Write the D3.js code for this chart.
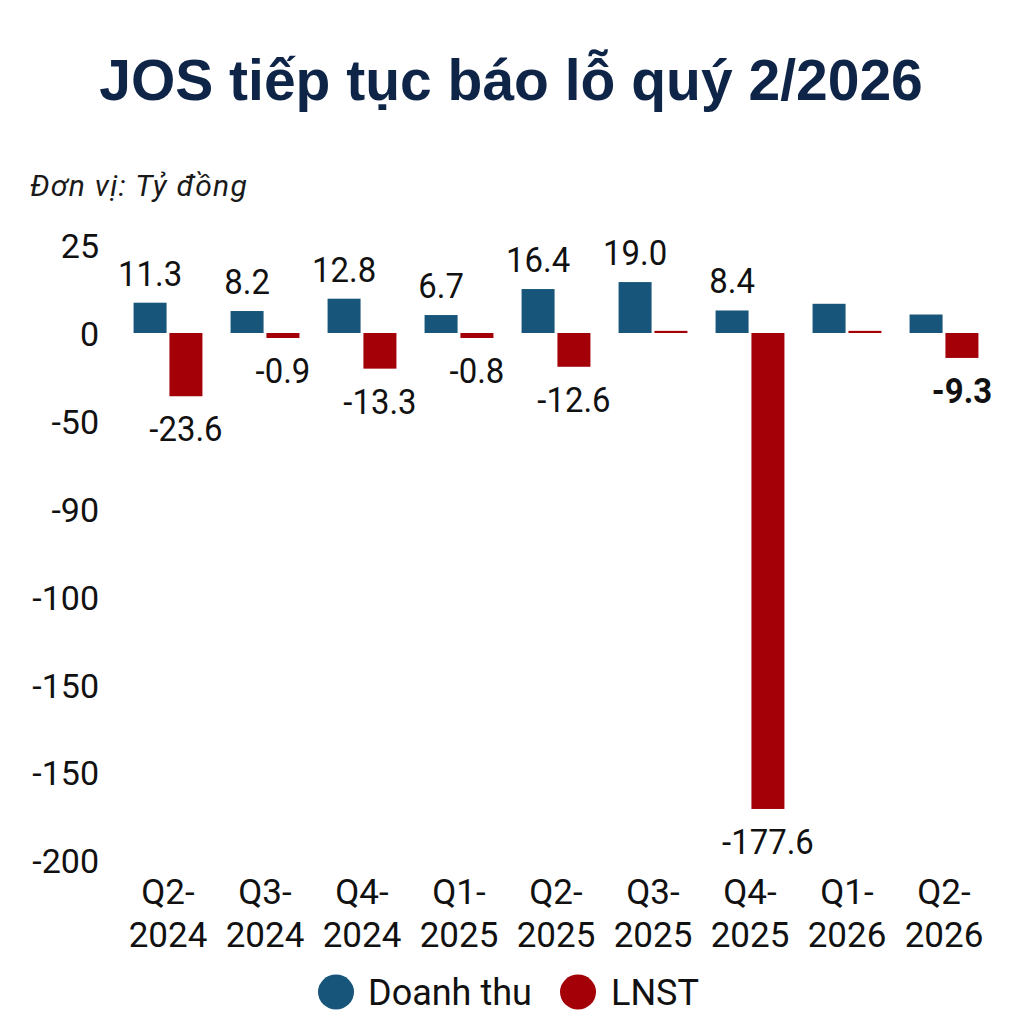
<!DOCTYPE html>
<html>
<head>
<meta charset="utf-8">
<script src="https://cdn.jsdelivr.net/npm/d3@7"></script>
<style>
  html, body { margin: 0; padding: 0; background: #fff; }
  svg { display: block; }
</style>
</head>
<body>
<svg id="chart" width="1024" height="1024"></svg>
<script>
// ---- data ----
const categories = ["Q2-2024", "Q3-2024", "Q4-2024", "Q1-2025", "Q2-2025", "Q3-2025", "Q4-2025", "Q1-2026", "Q2-2026"];
const revenue = [11.3, 8.2, 12.8, 6.7, 16.4, 19.0, 8.4, 10.9, 6.9];
const profit = [-23.6, -0.9, -13.3, -0.8, -12.6, 0.8, -177.6, 0.8, -9.3];
const revenueShown = [true, true, true, true, true, true, true, false, false];
const profitShown = [true, true, true, true, true, false, true, false, true];
const profitBold = [false, false, false, false, false, false, false, false, true];
const tickLabels = ["25", "0", "-50", "-90", "-100", "-150", "-150", "-200"];
const seriesNames = ["Doanh thu", "LNST"];

const title = "JOS tiếp tục báo lỗ quý 2/2026";
const unitText = "Đơn vị: Tỷ đồng";

// ---- styles ----
const colors = ["#18557a", "#a30008"];
const fontFamily = "Roboto, 'Noto Sans', sans-serif";
const textColor = "#111";

const svg = d3.select("#chart");

// title
svg.append("text")
  .attr("x", 511).attr("y", 100)
  .attr("text-anchor", "middle")
  .attr("font-family", "'Liberation Sans', Arial, sans-serif")
  .attr("font-weight", "bold")
  .attr("font-size", 57)
  .attr("fill", "#0f2547")
  .text(title);

svg.append("text")
  .attr("x", 30).attr("y", 196)
  .attr("font-family", fontFamily)
  .attr("font-style", "italic")
  .attr("font-size", 30)
  .attr("letter-spacing", 1.3)
  .attr("fill", "#1a1a1a")
  .text(unitText);

// scales
const y = d3.scaleLinear().domain([-200, 25]).range([869, 266]);
const x0 = d3.scaleBand().domain(categories).range([119.5, 992.5]).paddingInner(0.29).paddingOuter(0.145);
const x1 = d3.scaleBand().domain([0, 1]).range([0, x0.bandwidth()]).paddingInner(0.08);
const tickPos = d3.scalePoint().domain(d3.range(tickLabels.length)).range([246, 861]);

// y tick labels
svg.append("g").selectAll("text")
  .data(tickLabels)
  .join("text")
  .attr("x", 99)
  .attr("y", (d, i) => tickPos(i))
  .attr("dy", "0.36em")
  .attr("text-anchor", "end")
  .attr("font-family", fontFamily)
  .attr("font-size", 34)
  .attr("fill", textColor)
  .text(d => d);

const rows = categories.map((c, i) => ({
  cat: c,
  vals: [
    { s: 0, v: revenue[i], shown: revenueShown[i], bold: false },
    { s: 1, v: profit[i], shown: profitShown[i], bold: profitBold[i] }
  ]
}));

const groups = svg.append("g").selectAll("g")
  .data(rows)
  .join("g")
  .attr("transform", d => `translate(${x0(d.cat)},0)`);

function barTop(d) {
  return d.v >= 0 ? y(d.v) : y(0);
}
function barH(d) {
  const h = Math.abs(y(d.v) - y(0));
  return d.v < 0 ? Math.max(h, 5) : h;
}

groups.selectAll("rect")
  .data(d => d.vals)
  .join("rect")
  .attr("x", d => x1(d.s))
  .attr("width", x1.bandwidth())
  .attr("y", d => barTop(d))
  .attr("height", d => barH(d))
  .attr("fill", d => colors[d.s]);

groups.selectAll("text.val")
  .data(d => d.vals.filter(v => v.shown))
  .join("text")
  .attr("class", "val")
  .attr("transform", d => {
    const cx = x1(d.s) + x1.bandwidth() / 2;
    const cy = d.v >= 0 ? y(d.v) - 17 : y(0) + barH(d) + 45;
    return `translate(${cx},${cy}) scale(0.94,1)`;
  })
  .attr("text-anchor", "middle")
  .attr("font-family", fontFamily)
  .attr("font-size", 35)
  .attr("font-weight", d => d.bold ? "bold" : "normal")
  .attr("fill", textColor)
  .text(d => d.v.toFixed(1));

// x axis labels (two lines)
const xl = svg.append("g").selectAll("text")
  .data(categories)
  .join("text")
  .attr("x", d => x0(d) + x0.bandwidth() / 2)
  .attr("y", 904)
  .attr("text-anchor", "middle")
  .attr("font-family", fontFamily)
  .attr("font-size", 35)
  .attr("fill", textColor);
xl.append("tspan")
  .attr("x", d => x0(d) + x0.bandwidth() / 2)
  .text(d => d.split("-")[0] + "-");
xl.append("tspan")
  .attr("x", d => x0(d) + x0.bandwidth() / 2)
  .attr("dy", 43)
  .text(d => d.split("-")[1]);

// legend
const legendItems = [
  { name: seriesNames[0], cx: 336, tx: 368 },
  { name: seriesNames[1], cx: 578, tx: 611 }
];
const lg = svg.append("g").selectAll("g")
  .data(legendItems)
  .join("g");
lg.append("ellipse")
  .attr("cx", d => d.cx).attr("cy", 992)
  .attr("rx", 18).attr("ry", 17.5)
  .attr("fill", (d, i) => colors[i]);
lg.append("text")
  .attr("x", d => d.tx).attr("y", 1005)
  .attr("font-family", fontFamily)
  .attr("font-size", 36)
  .attr("fill", textColor)
  .text(d => d.name);
</script>
</body>
</html>
